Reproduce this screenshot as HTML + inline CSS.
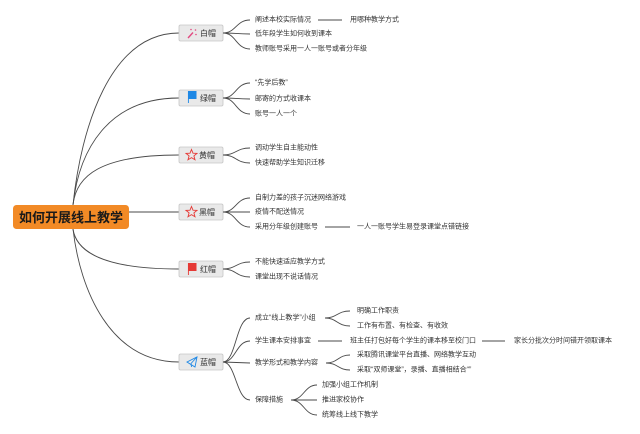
<!DOCTYPE html>
<html>
<head>
<meta charset="utf-8">
<style>
  html,body{margin:0;padding:0;background:#fff;}
  svg{display:block;}
  text{font-family:"Liberation Sans","Noto Sans CJK SC",sans-serif;}
  .t{font-size:7px;fill:#333;}
  .n{font-size:8px;fill:#333;}
  .l{fill:none;stroke:#4a4a4a;stroke-width:0.9;}
</style>
</head>
<body>
<svg width="640" height="434" viewBox="0 0 640 434" xmlns="http://www.w3.org/2000/svg">
  <rect width="640" height="434" fill="#fff"/>

  <!-- root connectors -->
  <path class="l" d="M73 205 C81 128 110 33 179 33"/>
  <path class="l" d="M73 205 C79 150 108 98 179 98"/>
  <path class="l" d="M73 205 C76 176 100 155 179 155"/>
  <path class="l" d="M129 212 L179 212"/>
  <path class="l" d="M73 229 C76 250 100 269 179 269"/>
  <path class="l" d="M73 229 C80 290 110 362 179 362"/>

  <!-- root -->
  <rect x="13" y="205" width="116" height="24" rx="3.5" fill="#f28a26"/>
  <text x="71" y="217.5" text-anchor="middle" dominant-baseline="central" font-size="13" font-weight="bold" fill="#1a1a1a">如何开展线上教学</text>

  <!-- branch nodes -->
  <g>
    <rect x="179" y="25" width="44" height="16" rx="1.5" fill="#e9e9e9" stroke="#c6c6c6" stroke-width="0.8"/>
    <rect x="179" y="90" width="44" height="16" rx="1.5" fill="#e9e9e9" stroke="#c6c6c6" stroke-width="0.8"/>
    <rect x="179" y="147" width="44" height="16" rx="1.5" fill="#e9e9e9" stroke="#c6c6c6" stroke-width="0.8"/>
    <rect x="179" y="204" width="44" height="16" rx="1.5" fill="#e9e9e9" stroke="#c6c6c6" stroke-width="0.8"/>
    <rect x="179" y="261" width="44" height="16" rx="1.5" fill="#e9e9e9" stroke="#c6c6c6" stroke-width="0.8"/>
    <rect x="179" y="354" width="44" height="16" rx="1.5" fill="#e9e9e9" stroke="#c6c6c6" stroke-width="0.8"/>

    <text class="n" x="200" y="33.5" dominant-baseline="central">白帽</text>
    <text class="n" x="200" y="98.5" dominant-baseline="central">绿帽</text>
    <text class="n" x="199" y="155.5" dominant-baseline="central">黄帽</text>
    <text class="n" x="199" y="212.5" dominant-baseline="central">黑帽</text>
    <text class="n" x="200" y="269.5" dominant-baseline="central">红帽</text>
    <text class="n" x="200" y="362.5" dominant-baseline="central">蓝帽</text>

    <!-- icons -->
    <!-- wand -->
    <line x1="188" y1="38" x2="193" y2="32.5" stroke="#e24a80" stroke-width="1.4"/>
    <circle cx="191" cy="29.5" r="0.8" fill="#e24a80"/>
    <circle cx="195.5" cy="30" r="0.8" fill="#e24a80"/>
    <circle cx="196" cy="34.5" r="0.8" fill="#e24a80"/>
    <!-- blue flag -->
    <rect x="188" y="91" width="8.5" height="8" fill="#1e88e5"/>
    <line x1="188.4" y1="91" x2="188.4" y2="103" stroke="#1e88e5" stroke-width="0.9"/>
    <!-- stars -->
    <polygon points="191.5,149.5 193,153.2 197,153.4 193.9,155.9 195,159.8 191.5,157.6 188,159.8 189.1,155.9 186,153.4 190,153.2" fill="none" stroke="#e53935" stroke-width="0.9"/>
    <polygon points="191.5,206.5 193,210.2 197,210.4 193.9,212.9 195,216.8 191.5,214.6 188,216.8 189.1,212.9 186,210.4 190,210.2" fill="none" stroke="#e53935" stroke-width="0.9"/>
    <!-- red flag -->
    <rect x="188" y="263" width="8.5" height="8" fill="#e53935"/>
    <line x1="188.4" y1="263" x2="188.4" y2="275" stroke="#e53935" stroke-width="0.9"/>
    <!-- paper plane -->
    <polygon points="187,362 197,357 195,367" fill="none" stroke="#1e88e5" stroke-width="0.9"/>
    <line x1="191" y1="363.5" x2="197" y2="357" stroke="#1e88e5" stroke-width="0.9"/>
    <line x1="191" y1="363.5" x2="191.5" y2="367" stroke="#1e88e5" stroke-width="0.9"/>
  </g>

  <!-- 白帽 children -->
  <path class="l" d="M223 33 C236 33 236 20 250 20"/>
  <path class="l" d="M223 33 C236 33 236 34 250 34"/>
  <path class="l" d="M223 33 C236 33 236 49 250 49"/>
  <text class="t" x="255" y="20" dominant-baseline="central">阐述本校实际情况</text>
  <line class="l" x1="318" y1="20" x2="342" y2="20"/>
  <text class="t" x="350" y="20" dominant-baseline="central">用哪种教学方式</text>
  <text class="t" x="255" y="34" dominant-baseline="central">低年段学生如何收到课本</text>
  <text class="t" x="255" y="49" dominant-baseline="central">教师账号采用一人一账号或者分年级</text>

  <!-- 绿帽 children -->
  <path class="l" d="M223 98 C236 98 236 83 250 83"/>
  <path class="l" d="M223 98 C236 98 236 99 250 99"/>
  <path class="l" d="M223 98 C236 98 236 114 250 114"/>
  <text class="t" x="255" y="83" dominant-baseline="central">“先学后教”</text>
  <text class="t" x="255" y="99" dominant-baseline="central">邮寄的方式收课本</text>
  <text class="t" x="255" y="114" dominant-baseline="central">账号一人一个</text>

  <!-- 黄帽 children -->
  <path class="l" d="M223 155 C236 155 236 148 250 148"/>
  <path class="l" d="M223 155 C236 155 236 163 250 163"/>
  <text class="t" x="255" y="148" dominant-baseline="central">调动学生自主能动性</text>
  <text class="t" x="255" y="163" dominant-baseline="central">快速帮助学生知识迁移</text>

  <!-- 黑帽 children -->
  <path class="l" d="M223 212 C236 212 236 198 250 198"/>
  <path class="l" d="M223 212 L250 212"/>
  <path class="l" d="M223 212 C236 212 236 227 250 227"/>
  <text class="t" x="255" y="198" dominant-baseline="central">自制力差的孩子沉迷网络游戏</text>
  <text class="t" x="255" y="212" dominant-baseline="central">疫情不配送情况</text>
  <text class="t" x="255" y="227" dominant-baseline="central">采用分年级创建账号</text>
  <line class="l" x1="325" y1="227" x2="350" y2="227"/>
  <text class="t" x="357" y="227" dominant-baseline="central">一人一账号学生易登录课堂点错链接</text>

  <!-- 红帽 children -->
  <path class="l" d="M223 269 C236 269 236 262 250 262"/>
  <path class="l" d="M223 269 C236 269 236 277 250 277"/>
  <text class="t" x="255" y="262" dominant-baseline="central">不能快速适应教学方式</text>
  <text class="t" x="255" y="277" dominant-baseline="central">课堂出现不说话情况</text>

  <!-- 蓝帽 children -->
  <path class="l" d="M223 362 C236 362 236 318 250 318"/>
  <path class="l" d="M223 362 C236 362 236 341 250 341"/>
  <path class="l" d="M223 362 L250 363"/>
  <path class="l" d="M223 362 C236 362 236 400 250 400"/>

  <text class="t" x="255" y="318" dominant-baseline="central">成立“线上教学”小组</text>
  <path class="l" d="M325 318 C337 318 337 311 350 311"/>
  <path class="l" d="M325 318 C337 318 337 326 350 326"/>
  <text class="t" x="357" y="311" dominant-baseline="central">明确工作职责</text>
  <text class="t" x="357" y="326" dominant-baseline="central">工作有布置、有检查、有收效</text>

  <text class="t" x="255" y="341" dominant-baseline="central">学生课本安排事宜</text>
  <line class="l" x1="318" y1="341" x2="342" y2="341"/>
  <text class="t" x="350" y="341" dominant-baseline="central">班主任打包好每个学生的课本移至校门口</text>
  <line class="l" x1="482" y1="341" x2="505" y2="341"/>
  <text class="t" x="514" y="341" dominant-baseline="central">家长分批次分时间错开领取课本</text>

  <text class="t" x="255" y="363" dominant-baseline="central">教学形式和教学内容</text>
  <path class="l" d="M326 363 C338 363 338 355 350 355"/>
  <path class="l" d="M326 363 C338 363 338 370 350 370"/>
  <text class="t" x="357" y="355" dominant-baseline="central">采取腾讯课堂平台直播、网络教学互动</text>
  <text class="t" x="357" y="370" dominant-baseline="central">采取“双师课堂”，录播、直播相结合“”</text>

  <text class="t" x="255" y="400" dominant-baseline="central">保障措施</text>
  <path class="l" d="M291 400 C304 400 304 385 317 385"/>
  <path class="l" d="M291 400 L317 400"/>
  <path class="l" d="M291 400 C304 400 304 415 317 415"/>
  <text class="t" x="322" y="385" dominant-baseline="central">加强小组工作机制</text>
  <text class="t" x="322" y="400" dominant-baseline="central">推进家校协作</text>
  <text class="t" x="322" y="415" dominant-baseline="central">统筹线上线下教学</text>
</svg>
</body>
</html>
